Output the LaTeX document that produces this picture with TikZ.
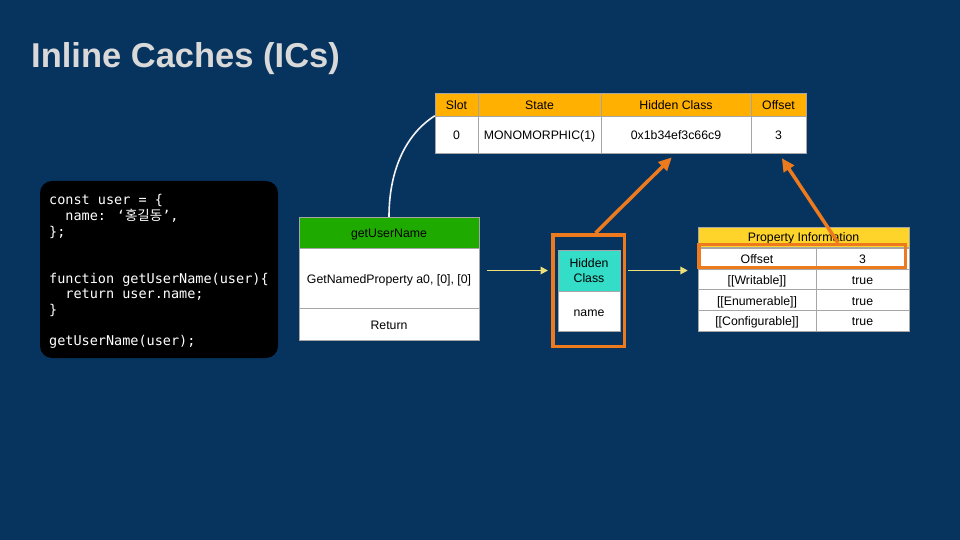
\documentclass[tikz,border=0pt]{standalone}
\usepackage{fontspec}
\setmainfont{Liberation Sans}
\newfontfamily\codefont{DejaVu Sans Mono}
\newfontfamily\korfont{Noto Sans CJK KR}
\usepackage{xcolor}
\usetikzlibrary{arrows.meta}

\definecolor{bgnavy}{HTML}{07345F}
\definecolor{titlegray}{HTML}{D9D9D9}
\definecolor{slotorange}{HTML}{FFB000}
\definecolor{bcgreen}{HTML}{1FAA00}
\definecolor{hcteal}{HTML}{33DDC8}
\definecolor{piyellow}{HTML}{FFD42A}
\definecolor{hlorange}{HTML}{EE7A1E}
\definecolor{arryellow}{HTML}{EDE07A}

\begin{document}
\begin{tikzpicture}[x=1pt, y=-1pt,
    title/.style={font=\fontsize{34.5}{40}\selectfont\bfseries, text=titlegray, inner sep=0pt},
    codebox/.style={rectangle, fill=black, rounded corners=12pt, minimum width=238pt, minimum height=177pt},
    codetext/.style={font=\codefont\fontsize{13.5}{15.65}\selectfont, text=white, align=left, inner sep=0pt},
    cell/.style={rectangle, draw=gray!70, fill=white, inner sep=0pt, font=\fontsize{12.3}{15}\selectfont, text=black, text height=11pt, text depth=0.5pt},
    opbox/.style={cell, minimum width=180pt},
    hcbox/.style={cell, minimum width=62pt},
    hcframe/.style={rectangle, draw=hlorange, line width=3.5pt, minimum width=71.5pt, minimum height=111.5pt},
    hlbox/.style={rectangle, draw=hlorange, line width=3.5pt, minimum width=206.5pt, minimum height=23pt},
    yarr/.style={-{Triangle[length=7.5pt, width=7.5pt]}, line width=1.8pt, color=arryellow},
    oarr/.style={-{Triangle[length=13pt, width=12pt]}, line width=3.5pt, color=hlorange, shorten >=6pt},
    curve/.style={line width=1.6pt, color=gray!10},
  ]
    % Background
    \fill[bgnavy] (0,0) rectangle (960,540);

    % Title
    \node[title, anchor=west] (title) at (31,59) {Inline Caches (ICs)};

    % Source code
    \node[codebox] (code) at (159,269.5) {};
    \node[codetext, anchor=north west] (src) at (49,194.5) {const user = \{\\
\phantom{xx}name: ‘{\korfont 홍길동}’,\\
\};\\[31.3pt]
function getUserName(user)\{\\
\phantom{xx}return user.name;\\
\}\\[15.65pt]
getUserName(user);};

    % Feedback vector (top table)
    \node[cell, fill=slotorange, minimum width=43pt, minimum height=23pt] (slotk) at (456.5,104.5) {Slot};
    \node[cell, fill=slotorange, minimum width=123pt, minimum height=23pt] (statek) at (539.5,104.5) {State};
    \node[cell, fill=slotorange, minimum width=150pt, minimum height=23pt] (hck) at (676,104.5) {Hidden Class};
    \node[cell, fill=slotorange, minimum width=55pt, minimum height=23pt] (offk) at (778.5,104.5) {Offset};
    \node[cell, minimum width=43pt, minimum height=37pt] (slotv) at (456.5,134.5) {0};
    \node[cell, minimum width=123pt, minimum height=37pt] (statev) at (539.5,134.5) {MONOMORPHIC(1)};
    \node[cell, minimum width=150pt, minimum height=37pt] (hcval) at (676,134.5) {0x1b34ef3c66c9};
    \node[cell, minimum width=55pt, minimum height=37pt] (offval) at (778.5,134.5) {3};

    % Bytecode
    \node[opbox, fill=bcgreen, minimum height=31pt] (bchead) at (389,232.5) {getUserName};
    \node[opbox, minimum height=60pt] (bcop) at (389,278) {GetNamedProperty a0, [0], [0]};
    \node[opbox, minimum height=32pt] (bcret) at (389,324) {Return};

    % Hidden class
    \node[hcbox, fill=hcteal, minimum height=41pt, align=center, text height=, text depth=] (hchead) at (589,270.5) {Hidden\\Class};
    \node[hcbox, minimum height=40pt] (hcname) at (589,311) {name};
    \node[hcframe] (hcframe) at (588.5,290.5) {};

    % Property information
    \node[cell, fill=piyellow, minimum width=211pt, minimum height=20pt, text height=9pt] (pihead) at (803.5,237) {Property Information};
    \node[cell, minimum width=118pt, minimum height=20.75pt] (pioffk) at (757,258.4) {Offset};
    \node[cell, minimum width=93pt, minimum height=20.75pt] (pioffv) at (862.5,258.4) {3};
    \node[cell, minimum width=118pt, minimum height=20.75pt] (piwrk) at (757,279.1) {[[Writable]]};
    \node[cell, minimum width=93pt, minimum height=20.75pt] (piwrv) at (862.5,279.1) {true};
    \node[cell, minimum width=118pt, minimum height=20.75pt] (pienk) at (757,299.9) {[[Enumerable]]};
    \node[cell, minimum width=93pt, minimum height=20.75pt] (pienv) at (862.5,299.9) {true};
    \node[cell, minimum width=118pt, minimum height=20.75pt] (picfk) at (757,320.6) {[[Configurable]]};
    \node[cell, minimum width=93pt, minimum height=20.75pt] (picfv) at (862.5,320.6) {true};
    \node[hlbox] (offhl) at (802,256) {};

    % Connectors
    \draw[curve] (bchead.north) .. controls +(0,-45) and +(-30,19) .. (slotv.north west);
    \draw[yarr] ([xshift=8pt]bcop.east |- hchead) -- ([xshift=-3pt]hcframe.west |- hchead);
    \draw[yarr] ([xshift=2pt]hcframe.east |- hchead) -- ([xshift=-10pt]pioffk.west |- hchead);
    \draw[oarr] ([xshift=7pt]hcframe.north) -- (hcval.south);
    \draw[oarr] ([xshift=36pt]offhl.north) -- (offval.south);

  \end{tikzpicture}
\end{document}
